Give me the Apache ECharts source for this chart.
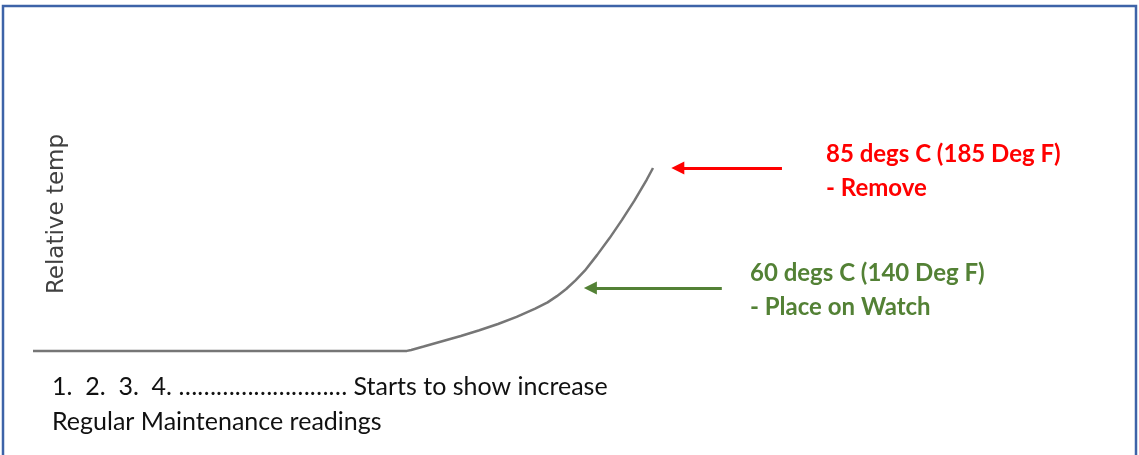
<!DOCTYPE html>
<html>
<head>
<meta charset="utf-8">
<style>html,body{margin:0;padding:0;background:#fff;}#c{width:1139px;height:455px;}</style>
<script src="https://cdn.jsdelivr.net/npm/echarts@6/dist/echarts.min.js"></script>
</head>
<body>
<div id="c"></div>
<script>
// reading progression (x) and relative temperature in deg C (y)
const readings = [0, 20, 40, 60.3, 61, 63, 66, 69, 72, 75, 78, 81, 83, 84.5, 86, 87.5, 89, 91, 93, 95, 97, 99, 100];
const temps    = [46.9, 46.9, 46.9, 46.9, 47.1, 47.8, 48.9, 50.0, 51.2, 52.5, 54.0, 55.7, 57.0, 58.3, 59.8, 61.6, 63.6, 66.9, 70.4, 74.2, 78.2, 82.6, 85.0];
const removeTemp = 85;
const watchTemp = 60;
const removeLabel = ['85 degs C (185 Deg F)', '- Remove'];
const watchLabel = ['60 degs C (140 Deg F)', '- Place on Watch'];
const bottomLabel = ['1.  2.  3.  4. \u2026\u2026\u2026\u2026\u2026\u2026\u2026\u2026\u2026 Starts to show increase', 'Regular Maintenance readings'];
const yName = 'Relative temp';

const chart = echarts.init(document.getElementById('c'));
const RED = '#ff0000', GREEN = '#538135';
const seriesData = readings.map((x, i) => [x, temps[i]]);

chart.setOption({
  animation: false,
  grid: {left: 33, top: 144, width: 806, height: 240, containLabel: false},
  xAxis: {type: 'value', min: 0, max: 130, show: false},
  yAxis: {type: 'value', min: 40, max: 90, show: false},
  series: [
    {
      type: 'line', data: seriesData, smooth: false, symbol: 'none',
      lineStyle: {color: '#767676', width: 2.5}
    },
    {
      type: 'lines', coordinateSystem: 'cartesian2d', silent: true,
      symbol: ['none', 'triangle'], symbolSize: [14, 13],
      data: [
        {coords: [[120.8, removeTemp], [104, removeTemp]], lineStyle: {color: RED, width: 3, opacity: 1}},
        {coords: [[111.1, watchTemp], [89.9, watchTemp]], lineStyle: {color: GREEN, width: 3, opacity: 1}}
      ],
      lineStyle: {type: 'solid', curveness: 0, opacity: 1}
    }
  ],
  graphic: [
    {type: 'rect', shape: {x: 3, y: 6, width: 1133, height: 460}, style: {fill: 'none', stroke: '#3d63a8', lineWidth: 2.5}, silent: true},
    {type: 'text', x: 57, y: 214, rotation: Math.PI / 2,
      style: {text: yName, font: '23px "DejaVu Sans"', fill: '#404040', align: 'center', verticalAlign: 'middle'}},
    {type: 'text', x: 826, y: 154, style: {text: removeLabel[0], font: 'bold 24px Lato', fill: RED, verticalAlign: 'middle'}},
    {type: 'text', x: 826, y: 188, style: {text: removeLabel[1], font: 'bold 24px Lato', fill: RED, verticalAlign: 'middle'}},
    {type: 'text', x: 750, y: 273, style: {text: watchLabel[0], font: 'bold 24px Lato', fill: GREEN, verticalAlign: 'middle'}},
    {type: 'text', x: 750, y: 307, style: {text: watchLabel[1], font: 'bold 24px Lato', fill: GREEN, verticalAlign: 'middle'}},
    {type: 'text', x: 52, y: 387, style: {text: bottomLabel[0], font: '25px Lato', fill: '#111', verticalAlign: 'middle'}},
    {type: 'text', x: 52, y: 422, style: {text: bottomLabel[1], font: '25px Lato', fill: '#111', verticalAlign: 'middle'}}
  ]
});
</script>
</body>
</html>
